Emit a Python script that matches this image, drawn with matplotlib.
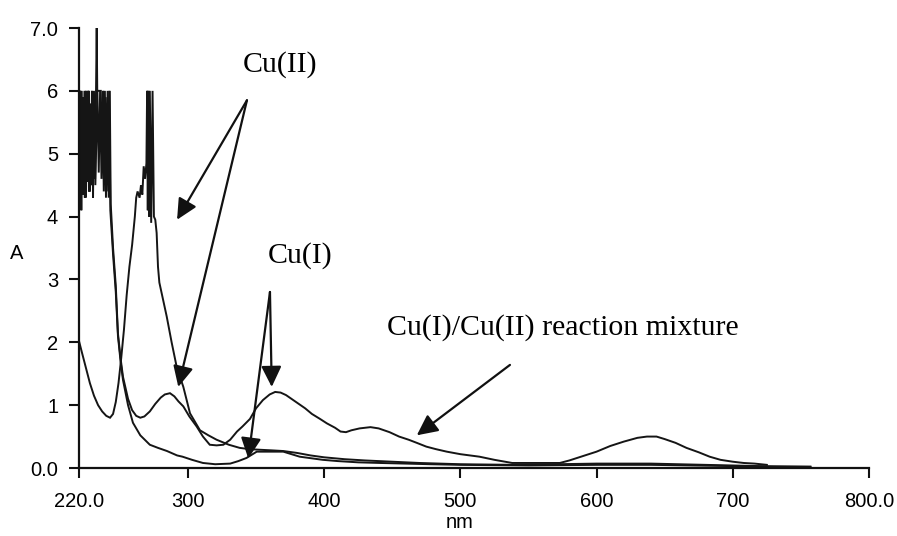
import matplotlib.pyplot as plt

# UV-Vis spectra: absorbance vs wavelength (nm)
# Cu(I)/Cu(II) reaction mixture - spiky off-scale start, bands at 286, 364, 434, 640 nm
mix_nm = [220, 220.7, 221.3, 222, 222.8, 223.5, 224.3, 225, 225.8, 226.5, 227.3, 228, 228.8,
          229.5, 230.3, 231, 231.8, 232.5, 233, 233.4, 234, 236, 237, 237.8, 238.6, 239.4, 240.2,
          241, 241.8, 242.6, 243.3, 245, 247, 248.6, 250.5, 252.3, 256, 259, 262, 265, 268, 272,
          276, 280, 283, 286.8, 290, 293, 296.6, 301, 306.4, 311, 316, 321, 326, 331, 336, 340,
          345.5, 350, 355, 360, 364, 368, 372, 376, 380, 386, 391, 397, 402, 408, 412, 416, 420,
          426, 434, 440, 448, 455, 462, 468, 475, 482, 490, 500, 514, 525, 538, 555, 573, 580,
          590, 600, 610, 620, 630, 637, 644, 650, 658, 666, 675, 683, 691, 700, 708, 716, 725]
mix_abs = [4.15, 6.0, 4.2, 6.0, 4.35, 5.6, 4.3, 6.0, 4.55, 6.0, 4.4, 5.8, 4.5,
           6.0, 4.3, 5.7, 4.6, 6.0, 7.0, 6.0, 6.0, 6.0, 4.9, 6.0, 4.5, 5.9, 4.4,
           6.0, 4.3, 6.0, 4.2, 3.5, 2.9, 2.14, 1.75, 1.45, 1.1, 0.92, 0.83, 0.80, 0.82, 0.9,
           1.02, 1.12, 1.17, 1.19, 1.14, 1.06, 0.98, 0.82, 0.66, 0.5, 0.37, 0.36, 0.37, 0.45, 0.58, 0.66,
           0.78, 0.95, 1.08, 1.17, 1.21, 1.2, 1.16, 1.1, 1.04, 0.95, 0.86, 0.78, 0.71, 0.64, 0.58, 0.57, 0.6,
           0.63, 0.65, 0.63, 0.57, 0.5, 0.45, 0.4, 0.34, 0.3, 0.26, 0.22, 0.18, 0.13, 0.08, 0.08, 0.08, 0.12,
           0.19, 0.26, 0.35, 0.42, 0.48, 0.5, 0.5, 0.46, 0.4, 0.32, 0.25, 0.18, 0.13, 0.1, 0.08, 0.07, 0.05]

# Cu(II)
cu2_nm = [220, 222, 225, 228, 231, 234, 237, 240, 242.8, 245, 247, 249, 251, 253, 255, 257,
          259, 261, 262, 263, 264.5, 265.5, 266.5, 267.5, 268.5, 269.5, 270, 270.5, 271, 271.5,
          272, 273, 274, 275, 276, 277, 278, 279, 281, 284.4, 288, 291.7, 296.6, 301.5, 308.8,
          315, 321, 330, 338, 345, 353, 362, 370, 380, 390, 400, 415, 430, 450, 470, 500, 540,
          600, 640, 680, 720, 757]
cu2_abs = [2.02, 1.85, 1.6, 1.35, 1.15, 1.0, 0.9, 0.83, 0.8, 0.86, 1.05, 1.35, 1.75, 2.2, 2.75, 3.2,
           3.55, 4.0, 4.3, 4.4, 4.3, 4.5, 4.35, 4.8, 4.6, 4.85, 6.0, 4.1, 6.0, 4.0,
           6.0, 3.9, 6.0, 4.0, 3.95, 3.74, 3.2, 2.95, 2.75, 2.41, 2.0, 1.61, 1.29, 0.87, 0.6,
           0.52, 0.45, 0.37, 0.32, 0.3, 0.29, 0.28, 0.27, 0.24, 0.2, 0.17, 0.14, 0.12, 0.1, 0.08, 0.06, 0.05,
           0.07, 0.07, 0.05, 0.03, 0.02]

# Cu(I)
cu1_nm = [220, 220.4, 221, 221.7, 222.4, 223.2, 224, 224.8, 225.6, 226.4, 227.2, 228, 229,
          230, 231, 232, 233.5, 234.5, 235.5, 236.5, 237.4, 238.2, 239, 239.8, 240.6, 241.4,
          242.2, 243, 245, 247, 248.6, 250.5, 252.3, 256, 259.6, 265, 272, 278, 284.6, 292, 296,
          303, 311, 320, 331, 337, 343, 350.5, 362, 370, 382, 399, 410, 425, 441, 460, 478, 500,
          550, 600, 640, 670, 700, 730, 757]
cu1_abs = [6.0, 4.4, 6.0, 4.1, 5.9, 4.6, 6.0, 4.3, 5.5, 4.8, 6.0, 4.4, 5.2,
           4.6, 6.0, 4.5, 6.0, 4.7, 6.0, 4.6, 5.7, 4.4, 6.0, 4.3, 5.8, 4.5,
           6.0, 4.1, 3.4, 2.8, 2.1, 1.7, 1.4, 1.0, 0.72, 0.52, 0.37, 0.32, 0.27, 0.2, 0.18,
           0.13, 0.08, 0.06, 0.07, 0.11, 0.16, 0.26, 0.26, 0.26, 0.18, 0.13, 0.11, 0.09, 0.08, 0.07, 0.06, 0.05,
           0.04, 0.05, 0.05, 0.04, 0.03, 0.02, 0.02]

xticks = [220, 300, 400, 500, 600, 700, 800]
xtick_labels = ["220.0", "300", "400", "500", "600", "700", "800.0"]
yticks = [0, 1, 2, 3, 4, 5, 6, 7]
ytick_labels = ["0.0", "1", "2", "3", "4", "5", "6", "7.0"]

plt.rcParams['font.family'] = ['Liberation Sans', 'DejaVu Sans']

fig = plt.figure(figsize=(8.97, 5.36), dpi=100)
ax = fig.add_axes([79 / 897, 1 - 468 / 536, 790 / 897, 440 / 536])

for wl, ab in [(cu2_nm, cu2_abs), (cu1_nm, cu1_abs), (mix_nm, mix_abs)]:
    ax.plot(wl, ab, color="#151515", lw=1.4, solid_joinstyle="miter")

ax.set_xlim(220, 800)
ax.set_ylim(0, 7)
ax.set_xticks(xticks)
ax.set_xticklabels(xtick_labels)
ax.set_yticks(yticks)
ax.set_yticklabels(ytick_labels)
ax.tick_params(axis="both", labelsize=14.5, width=1.5, length=7, color="#111111")
ax.tick_params(axis="x", pad=10)
ax.tick_params(axis="y", pad=8)
for side in ["top", "right"]:
    ax.spines[side].set_visible(False)
for side in ["left", "bottom"]:
    ax.spines[side].set_linewidth(1.6)
    ax.spines[side].set_color("#111111")

ax.set_ylabel("A", rotation=0, fontsize=14.5)
ax.yaxis.set_label_coords(-0.0785, 0.466)
ax.set_xlabel("nm", fontsize=14.5)
ax.xaxis.set_label_coords(0.482, -0.102)

# labels with arrows (Times-like serif)
serif = ['Liberation Serif', 'DejaVu Serif']
arrow = dict(arrowstyle="-|>,head_length=0.45,head_width=0.22", lw=1.6, color="#111111",
             shrinkA=0, shrinkB=0, mutation_scale=28)

ax.text(340.4, 6.30, "Cu(II)", family=serif, fontsize=21.5, va="baseline")
for tip in [(292.0, 3.95), (292.9, 1.29)]:
    ax.annotate("", xy=tip, xytext=(343.3, 5.85), arrowprops=arrow)

ax.text(358.8, 3.26, "Cu(I)", family=serif, fontsize=21.5, va="baseline")
for tip in [(361.5, 1.29), (344.3, 0.15)]:
    ax.annotate("", xy=tip, xytext=(360.2, 2.80), arrowprops=arrow)

ax.text(445.9, 2.12, "Cu(I)/Cu(II) reaction mixture", family=serif, fontsize=21.5, va="baseline")
ax.annotate("", xy=(468.0, 0.52), xytext=(536.4, 1.64), arrowprops=arrow)

fig.savefig("out.png", dpi=100)
